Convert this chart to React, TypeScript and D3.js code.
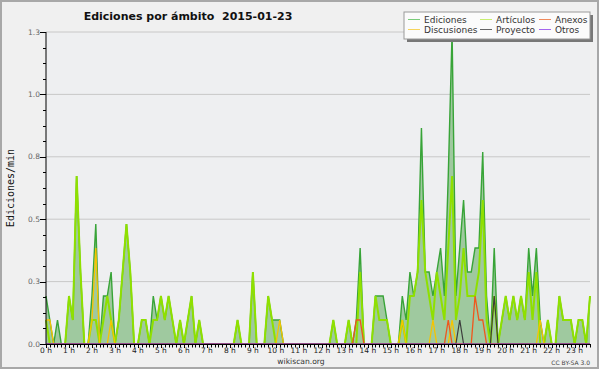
import * as d3 from "d3";

// 10-minute buckets from 00:00 to 23:40 (edits per minute)
const ediciones = [
  0.2, 0.1, 0, 0.1, 0, 0, 0.2, 0.1, 0.7, 0.3, 0, 0,
  0.2, 0.5, 0, 0.2, 0.2, 0.3, 0, 0.1, 0.3, 0.5, 0.3, 0,
  0, 0.1, 0.1, 0, 0.2, 0.1, 0.2, 0.1, 0.2, 0.1, 0, 0.1,
  0, 0.1, 0.2, 0, 0.1, 0, 0, 0, 0, 0, 0, 0,
  0, 0, 0.1, 0, 0, 0, 0.3, 0, 0, 0, 0.2, 0.1,
  0.1, 0.1, 0, 0, 0, 0, 0, 0, 0, 0, 0, 0,
  0, 0, 0, 0.1, 0, 0, 0, 0.1, 0, 0.1, 0.4, 0,
  0, 0, 0.2, 0.2, 0.2, 0.1, 0, 0, 0, 0.2, 0.1, 0.3,
  0.2, 0.3, 0.9, 0.3, 0.3, 0.2, 0.3, 0.4, 0.2, 0.7, 1.3, 0.2,
  0.4, 0.6, 0.3, 0.3, 0.4, 0.4, 0.8, 0.2, 0, 0.4, 0, 0.1,
  0.2, 0.1, 0.2, 0.1, 0.2, 0.1, 0.4, 0.2, 0.4, 0.1, 0, 0.1,
  0, 0, 0.2, 0.1, 0.1, 0.1, 0, 0.1, 0.1, 0, 0.2,
];

const articulos = [
  0.1, 0, 0, 0, 0, 0, 0.2, 0.1, 0.7, 0.3, 0, 0,
  0.1, 0.1, 0, 0.1, 0.2, 0.1, 0, 0.1, 0.3, 0.5, 0.3, 0,
  0, 0.1, 0.1, 0, 0.1, 0.1, 0.2, 0.1, 0.2, 0.1, 0, 0.1,
  0, 0.1, 0.2, 0, 0.1, 0, 0, 0, 0, 0, 0, 0,
  0, 0, 0.1, 0, 0, 0, 0.3, 0, 0, 0, 0.2, 0.1,
  0, 0, 0, 0, 0, 0, 0, 0, 0, 0, 0, 0,
  0, 0, 0, 0.1, 0, 0, 0, 0.1, 0, 0, 0.3, 0,
  0, 0, 0.2, 0.1, 0.1, 0.1, 0, 0, 0, 0.1, 0, 0.2,
  0.2, 0.3, 0.6, 0.3, 0.2, 0.1, 0.3, 0.2, 0.1, 0.4, 0.7, 0.1,
  0.2, 0.4, 0.2, 0.2, 0.2, 0.3, 0.6, 0.1, 0, 0.2, 0, 0.1,
  0.2, 0.1, 0.2, 0.1, 0.2, 0.1, 0.3, 0.1, 0.3, 0, 0, 0.1,
  0, 0, 0.2, 0.1, 0.1, 0.1, 0, 0.1, 0.1, 0, 0.2,
];

const discusiones = [
  0.1, 0.1, 0, 0, 0, 0, 0, 0, 0, 0, 0, 0,
  0.1, 0.4, 0, 0, 0, 0.1, 0, 0, 0, 0, 0, 0,
  0, 0, 0, 0, 0, 0, 0, 0, 0, 0, 0, 0,
  0, 0, 0, 0, 0, 0, 0, 0, 0, 0, 0, 0,
  0, 0, 0, 0, 0, 0, 0, 0, 0, 0, 0, 0,
  0, 0.1, 0, 0, 0, 0, 0, 0, 0, 0, 0, 0,
  0, 0, 0, 0, 0, 0, 0, 0, 0, 0, 0, 0,
  0, 0, 0, 0, 0, 0, 0, 0, 0, 0.1, 0, 0,
  0, 0, 0, 0, 0, 0.1, 0, 0, 0, 0, 0.1, 0,
  0, 0, 0, 0, 0, 0, 0, 0, 0, 0, 0, 0,
  0, 0, 0, 0, 0, 0, 0, 0, 0, 0.1, 0, 0,
  0, 0, 0, 0, 0, 0, 0, 0, 0, 0, 0,
];

const anexos = [
  0, 0, 0, 0, 0, 0, 0, 0, 0, 0, 0, 0,
  0, 0, 0, 0, 0, 0, 0, 0, 0, 0, 0, 0,
  0, 0, 0, 0, 0, 0, 0, 0, 0, 0, 0, 0,
  0, 0, 0, 0, 0, 0, 0, 0, 0, 0, 0, 0,
  0, 0, 0, 0, 0, 0, 0, 0, 0, 0, 0, 0,
  0, 0, 0, 0, 0, 0, 0, 0, 0, 0, 0, 0,
  0, 0, 0, 0, 0, 0, 0, 0, 0, 0.1, 0.1, 0,
  0, 0, 0, 0, 0, 0, 0, 0, 0, 0, 0, 0,
  0, 0, 0, 0, 0, 0, 0, 0, 0, 0.1, 0, 0,
  0, 0, 0, 0, 0.2, 0.1, 0.1, 0, 0, 0, 0, 0,
  0, 0, 0, 0, 0, 0, 0, 0, 0, 0, 0, 0,
  0, 0, 0, 0, 0, 0, 0, 0, 0, 0, 0,
];

const proyecto = [
  0, 0, 0, 0, 0, 0, 0, 0, 0, 0, 0, 0,
  0, 0, 0, 0, 0, 0, 0, 0, 0, 0, 0, 0,
  0, 0, 0, 0, 0, 0, 0, 0, 0, 0, 0, 0,
  0, 0, 0, 0, 0, 0, 0, 0, 0, 0, 0, 0,
  0, 0, 0, 0, 0, 0, 0, 0, 0, 0, 0, 0,
  0, 0, 0, 0, 0, 0, 0, 0, 0, 0, 0, 0,
  0, 0, 0, 0, 0, 0, 0, 0, 0, 0, 0, 0,
  0, 0, 0, 0, 0, 0, 0, 0, 0, 0, 0, 0,
  0, 0, 0, 0, 0, 0, 0, 0, 0, 0, 0, 0,
  0.1, 0, 0, 0, 0, 0, 0, 0, 0, 0.2, 0, 0,
  0, 0, 0, 0, 0, 0, 0, 0, 0, 0, 0, 0,
  0, 0, 0, 0, 0, 0, 0, 0, 0, 0, 0,
];

const otros = [
  0, 0, 0, 0, 0, 0, 0, 0, 0, 0, 0, 0,
  0, 0, 0, 0, 0, 0, 0, 0, 0, 0, 0, 0,
  0, 0, 0, 0, 0, 0, 0, 0, 0, 0, 0, 0,
  0, 0, 0, 0, 0, 0, 0, 0, 0, 0, 0, 0,
  0, 0, 0, 0, 0, 0, 0, 0, 0, 0, 0, 0,
  0, 0, 0, 0, 0, 0, 0, 0, 0, 0, 0, 0,
  0, 0, 0, 0, 0, 0, 0, 0, 0, 0, 0, 0,
  0, 0, 0, 0, 0, 0, 0, 0, 0, 0, 0, 0,
  0, 0, 0, 0, 0, 0, 0, 0, 0, 0, 0, 0,
  0, 0, 0, 0, 0, 0, 0, 0, 0, 0, 0, 0,
  0, 0, 0, 0, 0, 0, 0, 0, 0, 0, 0, 0,
  0, 0, 0, 0, 0, 0, 0, 0, 0, 0, 0,
];

const hourLabels = [
  "0 h", "1 h", "2 h", "3 h", "4 h", "5 h", "6 h", "7 h", "8 h", "9 h", "10 h", "11 h",
  "12 h", "13 h", "14 h", "15 h", "16 h", "17 h", "18 h", "19 h", "20 h", "21 h", "22 h", "23 h",
];

const yTicks = [0, 0.26, 0.52, 0.78, 1.04, 1.3];
const yTickLabels = ["0.0", "0.3", "0.5", "0.8", "1.0", "1.3"];

const series = [
  { name: "Ediciones", values: ediciones, color: "#38a438", width: 1.4 },
  { name: "Artículos", values: articulos, color: "#8fe000", width: 2 },
  { name: "Discusiones", values: discusiones, color: "#f6c400", width: 1.3 },
  { name: "Anexos", values: anexos, color: "#f0561c", width: 1.3 },
  { name: "Proyecto", values: proyecto, color: "#3c3c3c", width: 1.2 },
  { name: "Otros", values: otros, color: "#9040e8", width: 1.2 },
];

const legendRows = [
  ["Ediciones", "Artículos", "Anexos"],
  ["Discusiones", "Proyecto", "Otros"],
];
const legendColors = {
  Ediciones: "#7acc7a",
  Artículos: "#c8ee70",
  Anexos: "#f08a5c",
  Discusiones: "#f6d45c",
  Proyecto: "#666666",
  Otros: "#a466ee",
};

const W = 600;
const H = 370;
const plot = { left: 46, right: 590, top: 32, bottom: 344 };
const font = "'DejaVu Sans', sans-serif";

export default function App() {
  const n = ediciones.length;
  const x = d3.scaleLinear().domain([0, n - 1]).range([plot.left, plot.right]);
  const y = d3.scaleLinear().domain([0, 1.3]).range([plot.bottom, plot.top]);

  const line = d3
    .line<number>()
    .x((_, i) => x(i))
    .y((d) => y(d));
  const area = d3
    .area<number>()
    .x((_, i) => x(i))
    .y0(y(0))
    .y1((d) => y(d));

  const minorY = d3.range(0, 1.3 + 1e-9, 0.065);
  const minorX = d3.range(0, n);
  const legendCols = [408, 480, 539];

  return (
    <svg
      width={W}
      height={H}
      style={{ position: "absolute", left: 0, top: 0 }}
      fontFamily={font}
    >
      <rect x={1} y={1} width={W - 3} height={H - 3} fill="#f0f0f0" stroke="#a8a8a8" strokeWidth={2} />
      <rect
        x={plot.left}
        y={plot.top}
        width={plot.right - plot.left}
        height={plot.bottom - plot.top}
        fill="#eeeff1"
      />

      {/* grid */}
      {yTicks.slice(1).map((t) => (
        <line key={t} x1={plot.left} x2={plot.right} y1={y(t)} y2={y(t)} stroke="#c8c8c8" strokeWidth={1} />
      ))}

      {/* fill under total */}
      <path d={area(ediciones) ?? ""} fill="#9fc99f" />

      {series.map((s) => (
        <path
          key={s.name}
          d={line(s.values) ?? ""}
          fill="none"
          stroke={s.color}
          strokeWidth={s.width}
          strokeLinejoin="miter"
        />
      ))}

      {/* y axis */}
      <line x1={plot.left} x2={plot.left} y1={plot.top} y2={plot.bottom} stroke="#000" />
      {minorY.map((t, i) => (
        <line key={i} x1={plot.left - 3} x2={plot.left} y1={Math.round(y(t)) + 0.5} y2={Math.round(y(t)) + 0.5} stroke="#000" />
      ))}
      {yTicks.map((t, i) => (
        <g key={t}>
          <line x1={plot.left - 6} x2={plot.left} y1={Math.round(y(t)) + 0.5} y2={Math.round(y(t)) + 0.5} stroke="#000" />
          <text x={plot.left - 6} y={y(t) + 2.5} fontSize={7.5} fill="#666" textAnchor="end">
            {yTickLabels[i]}
          </text>
        </g>
      ))}
      <text
        transform={`translate(14, 188) rotate(-90)`}
        fontFamily="'DejaVu Sans Mono', monospace"
        fontSize={10}
        textAnchor="middle"
        fill="#111"
      >
        Ediciones/min
      </text>

      {/* x axis */}
      <line x1={plot.left} x2={plot.right} y1={plot.bottom + 0.5} y2={plot.bottom + 0.5} stroke="#000" strokeWidth={1.2} />
      {minorX.map((i) => (
        <line
          key={i}
          x1={Math.round(x(i)) + 0.5}
          x2={Math.round(x(i)) + 0.5}
          y1={plot.bottom}
          y2={plot.bottom + (i % 6 === 0 ? 4 : 3.5)}
          stroke="#000"
        />
      ))}
      {hourLabels.map((h, i) => (
        <text key={h} x={x(i * 6)} y={353} fontSize={7.5} fill="#222" textAnchor="middle">
          {h}
        </text>
      ))}

      {/* title */}
      <text x={188} y={20} fontSize={11} fontWeight="bold" textAnchor="middle" fill="#111" style={{ whiteSpace: "pre" }}>
        {"Ediciones por ámbito  2015-01-23"}
      </text>

      {/* legend */}
      <rect x={407} y={15} width={186} height={27} fill="#777" />
      <rect x={404} y={12} width={186} height={27} fill="#fbfbfb" stroke="#999" strokeWidth={1} />
      {legendRows.map((row, r) =>
        row.map((name, c) => (
          <g key={name}>
            <line
              x1={legendCols[c]}
              x2={legendCols[c] + 12}
              y1={19.5 + r * 10}
              y2={19.5 + r * 10}
              stroke={legendColors[name as keyof typeof legendColors]}
              strokeWidth={1}
            />
            <text x={legendCols[c] + 16} y={22.5 + r * 10.3} fontSize={9} fill="#333">
              {name}
            </text>
          </g>
        ))
      )}

      {/* footer */}
      <text x={301} y={364} fontSize={7.6} fill="#333" textAnchor="middle">
        wikiscan.org
      </text>
      <text x={590} y={365} fontSize={6} fill="#444" textAnchor="end">
        CC BY-SA 3.0
      </text>
    </svg>
  );
}
